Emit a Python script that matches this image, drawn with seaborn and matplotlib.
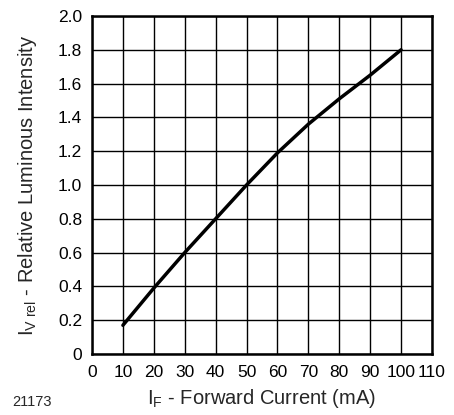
import numpy as np
import pandas as pd
import matplotlib
matplotlib.use('Agg')
import matplotlib.pyplot as plt
import seaborn as sns

# --- Data ---
forward_current = [10, 20, 30, 40, 50, 60, 70, 80, 90, 100]
rel_intensity = [0.17, 0.39, 0.60, 0.80, 1.00, 1.19, 1.36, 1.51, 1.65, 1.80]
x_ticks = list(range(0, 111, 10))
y_ticks = [0, 0.2, 0.4, 0.6, 0.8, 1.0, 1.2, 1.4, 1.6, 1.8, 2.0]
y_tick_labels = ['0', '0.2', '0.4', '0.6', '0.8', '1.0', '1.2', '1.4', '1.6', '1.8', '2.0']

df = pd.DataFrame({'IF': forward_current, 'IV': rel_intensity})

sns.set_style('white')
plt.rcParams['font.family'] = ['Liberation Sans', 'DejaVu Sans']
plt.rcParams['mathtext.fontset'] = 'custom'
plt.rcParams['mathtext.rm'] = 'Liberation Sans'
plt.rcParams['mathtext.it'] = 'Liberation Sans'

fig = plt.figure(figsize=(4.54, 4.15), dpi=100)
ax = fig.add_axes([92 / 454, 1 - 354 / 415, 340 / 454, 338 / 415])

sns.lineplot(data=df, x='IF', y='IV', ax=ax, color='black', linewidth=2.5)

ax.set_xlim(0, 110)
ax.set_ylim(0, 2.0)
ax.set_xticks(x_ticks)
ax.set_yticks(y_ticks)
ax.set_yticklabels(y_tick_labels)
ax.tick_params(length=0, labelsize=12.5, colors='black')
ax.tick_params(axis='x', pad=8)
ax.tick_params(axis='y', pad=7)
ax.grid(True, color='black', linewidth=1.0)
for s in ax.spines.values():
    s.set_color('black')
    s.set_linewidth(1.8)

ax.set_xlabel(r'$\mathregular{I_F}$ - Forward Current (mA)', fontsize=14.5, labelpad=5)
ax.set_ylabel(r'$\mathregular{I_{V\ rel}}$ - Relative Luminous Intensity', fontsize=14.5, labelpad=14)
fig.text(12 / 454, 1 - 402 / 415, '21173', fontsize=10.5, va='center', ha='left')

plt.savefig('out.png', dpi=100)
